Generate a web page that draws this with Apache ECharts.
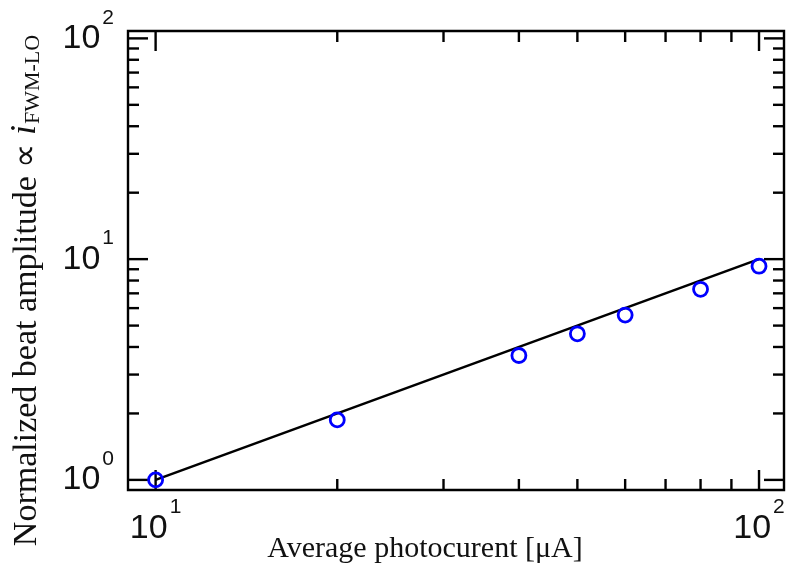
<!DOCTYPE html>
<html>
<head>
<meta charset="utf-8">
<script src="https://cdn.jsdelivr.net/npm/echarts@6/dist/echarts.min.js"></script>
<style>
html,body{margin:0;padding:0;background:#fff;}
#chart{width:790px;height:563px;}
</style>
</head>
<body>
<div id="chart"></div>
<script>
// Data
var photocurrent = [10, 20, 40, 50, 60, 80, 100];
var amplitude = [1.0, 1.87, 3.66, 4.59, 5.58, 7.3, 9.29];
var fitX = [10, 100];
var fitY = [1, 10];
var xTickValues = [10, 20, 30, 40, 50, 60, 70, 80, 90, 100];
var yTickValues = [1, 2, 3, 4, 5, 6, 7, 8, 9, 10, 20, 30, 40, 50, 60, 70, 80, 90, 100];
var xTitle = 'Average photocurent [\u03bcA]';
var yTitle = 'Normalized beat amplitude \u221d ';

var chart = echarts.init(document.getElementById('chart'));

function isPow10(v) {
  var e = Math.log10(v);
  return Math.abs(e - Math.round(e)) < 1e-6;
}
function powLabel(v) {
  var e = Math.log10(v);
  var r = Math.round(e);
  if (Math.abs(e - r) > 1e-6) return '';
  return '{b|10}{s|' + r + '}';
}

var scatterData = photocurrent.map(function (x, i) { return [x, amplitude[i]]; });
var fitData = fitX.map(function (x, i) { return [x, fitY[i]]; });

function tickRenderer(axis) {
  return function (params, api) {
    var cs = params.coordSys;
    var v = axis === 'x' ? api.value(0) : api.value(1);
    var major = isPow10(v);
    var len = major ? 20 : 11;
    var style = { stroke: '#000', lineWidth: 2.4 };
    if (axis === 'x') {
      var px = api.coord([v, 1])[0];
      var b = cs.y + cs.height, t = cs.y;
      return { type: 'group', children: [
        { type: 'line', shape: { x1: px, y1: b, x2: px, y2: b - len }, style: style },
        { type: 'line', shape: { x1: px, y1: t, x2: px, y2: t + len }, style: style }
      ]};
    } else {
      var py = api.coord([10, v])[1];
      var l = cs.x, r = cs.x + cs.width;
      return { type: 'group', children: [
        { type: 'line', shape: { x1: l, y1: py, x2: l + len, y2: py }, style: style },
        { type: 'line', shape: { x1: r, y1: py, x2: r - len, y2: py }, style: style }
      ]};
    }
  };
}

var labelRichX = {
  b: { fontFamily: 'Liberation Sans', fontSize: 34, color: '#111', lineHeight: 36, verticalAlign: 'bottom' },
  s: { fontFamily: 'Liberation Sans', fontSize: 21, color: '#111', lineHeight: 21, padding: [0, 0, 28, 2], verticalAlign: 'bottom' }
};
var labelRichY = {
  b: { fontFamily: 'Liberation Sans', fontSize: 34, color: '#111', lineHeight: 36, padding: [0, 0, 1, 0], verticalAlign: 'bottom' },
  s: { fontFamily: 'Liberation Sans', fontSize: 21, color: '#111', lineHeight: 21, padding: [0, 0, 28, 2], verticalAlign: 'bottom' }
};

var option = {
  animation: false,
  backgroundColor: '#fff',
  grid: { left: 128, right: 6, top: 31, bottom: 73, containLabel: false, outerBoundsMode: 'none',
    show: true, borderColor: '#000', borderWidth: 2.4, backgroundColor: 'transparent' },
  xAxis: {
    type: 'log', logBase: 10, min: 9, max: 110,
    axisLine: { show: false }, axisTick: { show: false }, splitLine: { show: false },
    axisLabel: { formatter: powLabel, margin: 20, rich: labelRichX, showMinLabel: false, showMaxLabel: false },
    name: xTitle, nameLocation: 'middle', nameGap: 44, nameMoveOverlap: false,
    nameTextStyle: { fontFamily: 'Liberation Serif', fontSize: 30, color: '#111', padding: [0, 62, 0, 0] }
  },
  yAxis: {
    type: 'log', logBase: 10, min: 0.9, max: 108,
    axisLine: { show: false }, axisTick: { show: false }, splitLine: { show: false },
    axisLabel: { formatter: powLabel, margin: 14, rich: labelRichY, showMinLabel: false, showMaxLabel: false },
    name: '{n|' + yTitle + '}{i|i}{sub|FWM-LO}', nameLocation: 'middle', nameGap: 84, nameMoveOverlap: false,
    nameTextStyle: {
      padding: [0, 60, 0, 0],
      rich: {
        n: { fontFamily: 'Liberation Serif', fontSize: 34, color: '#111', lineHeight: 38, verticalAlign: 'bottom' },
        i: { fontFamily: 'Liberation Serif', fontStyle: 'italic', fontSize: 36, color: '#111', lineHeight: 38, verticalAlign: 'bottom' },
        sub: { fontFamily: 'Liberation Serif', fontSize: 22, color: '#111', lineHeight: 22, verticalAlign: 'bottom', padding: [0, 0, 0, 1] }
      }
    }
  },
  series: [
    { type: 'custom', renderItem: tickRenderer('x'), data: xTickValues.map(function (v) { return [v, 1]; }), silent: true, z: 1 },
    { type: 'custom', renderItem: tickRenderer('y'), data: yTickValues.map(function (v) { return [10, v]; }), silent: true, z: 1 },
    { type: 'line', data: fitData, symbol: 'none', lineStyle: { color: '#000', width: 2.6 }, z: 2 },
    { type: 'scatter', data: scatterData, symbol: 'circle', symbolSize: 14,
      itemStyle: { color: 'rgba(0,0,0,0)', borderColor: '#0000ff', borderWidth: 2.8, opacity: 1 }, z: 3 }
  ]
};
chart.setOption(option);
</script>
</body>
</html>
